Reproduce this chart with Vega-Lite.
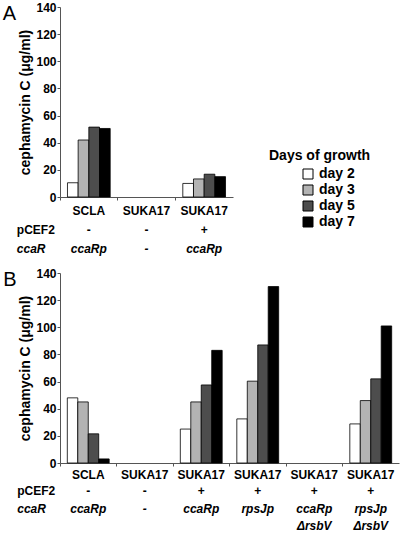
{
  "$schema": "https://vega.github.io/schema/vega-lite/v6.json",
  "padding": {"left": 2, "top": 1, "right": 2, "bottom": 2},
  "bounds": "flush",
  "spacing": 76,
  "background": "white",
  "config": {
    "view": {"stroke": null},
    "font": "Liberation Sans",
    "axis": {"labelFont": "Liberation Sans", "titleFont": "Liberation Sans", "labelFontWeight": "bold", "titleFontWeight": "bold", "labelColor": "black", "titleColor": "black", "domainColor": "#555", "tickColor": "#555", "grid": false, "labelOverlap": false},
    "text": {"font": "Liberation Sans", "fontSize": 12, "fontWeight": "bold", "color": "black"}
  },
  "datasets": {
    "barsA": [
      {"group": "a1", "day": "day 2", "value": 10.5}, {"group": "a1", "day": "day 3", "value": 42}, {"group": "a1", "day": "day 5", "value": 51.5}, {"group": "a1", "day": "day 7", "value": 50.5},
      {"group": "a2", "day": "day 2", "value": 0}, {"group": "a2", "day": "day 3", "value": 0}, {"group": "a2", "day": "day 5", "value": 0}, {"group": "a2", "day": "day 7", "value": 0},
      {"group": "a3", "day": "day 2", "value": 10}, {"group": "a3", "day": "day 3", "value": 13.3}, {"group": "a3", "day": "day 5", "value": 16.8}, {"group": "a3", "day": "day 7", "value": 15}
    ],
    "barsB": [
      {"group": "b1", "day": "day 2", "value": 48}, {"group": "b1", "day": "day 3", "value": 45}, {"group": "b1", "day": "day 5", "value": 21.5}, {"group": "b1", "day": "day 7", "value": 3},
      {"group": "b2", "day": "day 2", "value": 0}, {"group": "b2", "day": "day 3", "value": 0}, {"group": "b2", "day": "day 5", "value": 0}, {"group": "b2", "day": "day 7", "value": 0},
      {"group": "b3", "day": "day 2", "value": 25}, {"group": "b3", "day": "day 3", "value": 45}, {"group": "b3", "day": "day 5", "value": 57.5}, {"group": "b3", "day": "day 7", "value": 83},
      {"group": "b4", "day": "day 2", "value": 32.5}, {"group": "b4", "day": "day 3", "value": 60.3}, {"group": "b4", "day": "day 5", "value": 87}, {"group": "b4", "day": "day 7", "value": 130},
      {"group": "b5", "day": "day 2", "value": 0}, {"group": "b5", "day": "day 3", "value": 0}, {"group": "b5", "day": "day 5", "value": 0}, {"group": "b5", "day": "day 7", "value": 0},
      {"group": "b6", "day": "day 2", "value": 28.8}, {"group": "b6", "day": "day 3", "value": 46}, {"group": "b6", "day": "day 5", "value": 62}, {"group": "b6", "day": "day 7", "value": 101}
    ],
    "labelsA": [
      {"group": "a1", "strain": "SCLA", "pcef2": "-", "ccar": "ccaRp"},
      {"group": "a2", "strain": "SUKA17", "pcef2": "-", "ccar": "-"},
      {"group": "a3", "strain": "SUKA17", "pcef2": "+", "ccar": "ccaRp"}
    ],
    "labelsB": [
      {"group": "b1", "strain": "SCLA", "pcef2": "-", "ccar": "ccaRp", "rsbv": ""},
      {"group": "b2", "strain": "SUKA17", "pcef2": "-", "ccar": "-", "rsbv": ""},
      {"group": "b3", "strain": "SUKA17", "pcef2": "+", "ccar": "ccaRp", "rsbv": ""},
      {"group": "b4", "strain": "SUKA17", "pcef2": "+", "ccar": "rpsJp", "rsbv": ""},
      {"group": "b5", "strain": "SUKA17", "pcef2": "+", "ccar": "ccaRp", "rsbv": "ΔrsbV"},
      {"group": "b6", "strain": "SUKA17", "pcef2": "+", "ccar": "rpsJp", "rsbv": "ΔrsbV"}
    ]
  },
  "vconcat": [
    {
      "width": 173,
      "height": 190,
      "resolve": {"scale": {"xOffset": "independent"}},
      "layer": [
        {
          "data": {"name": "barsA"},
          "transform": [{"filter": "datum.value > 0"}],
          "mark": {"type": "bar", "stroke": "black", "strokeWidth": 0.8},
          "encoding": {
            "x": {"field": "group", "type": "nominal", "scale": {"domain": ["a1", "a2", "a3"], "paddingInner": 0, "paddingOuter": 0}, "axis": {"title": null, "labels": false, "bandPosition": 0, "tickSize": 3, "domainWidth": 1}},
            "xOffset": {"field": "day", "type": "nominal", "scale": {"domain": ["day 2", "day 3", "day 5", "day 7"], "paddingInner": 0, "paddingOuter": 0.7}},
            "y": {"field": "value", "type": "quantitative", "scale": {"domain": [0, 140], "nice": false}, "axis": {"title": "cephamycin C (μg/ml)", "titleFontSize": 14, "titlePadding": 3, "labelFontSize": 12, "labelPadding": 1, "tickSize": 3, "labelOverlap": false, "tickCount": 8, "values": [0, 20, 40, 60, 80, 100, 120, 140]}},
            "fill": {"field": "day", "type": "nominal", "scale": {"domain": ["day 2", "day 3", "day 5", "day 7"], "range": ["#ffffff", "#b3b3b3", "#4d4d4d", "#000000"]},
              "legend": {"title": "Days of growth", "orient": "none", "legendX": 209, "legendY": 142, "titleFontSize": 14, "titleFontWeight": "bold", "titleFont": "Liberation Sans", "titleColor": "black", "titlePadding": 4, "labelFontSize": 14, "labelFontWeight": "bold", "labelFont": "Liberation Sans", "labelColor": "black", "symbolType": "square", "symbolSize": 100, "symbolStrokeColor": "black", "symbolStrokeWidth": 1, "symbolOffset": 32, "labelOffset": 4, "rowPadding": 2}}
          }
        },
        {
          "data": {"name": "labelsA"},
          "mark": {"type": "text", "baseline": "middle", "dy": 14},
          "encoding": {"x": {"field": "group", "type": "nominal"}, "y": {"datum": 0}, "text": {"field": "strain"}}
        },
        {
          "data": {"name": "labelsA"},
          "mark": {"type": "text", "baseline": "middle", "dy": 33},
          "encoding": {"x": {"field": "group", "type": "nominal"}, "y": {"datum": 0}, "text": {"field": "pcef2"}}
        },
        {
          "data": {"name": "labelsA"},
          "mark": {"type": "text", "baseline": "middle", "dy": 52, "fontStyle": "italic"},
          "encoding": {"x": {"field": "group", "type": "nominal"}, "y": {"datum": 0}, "text": {"field": "ccar"}}
        },
        {
          "data": {"values": [{"group": "a1", "h1": "pCEF2", "h2": "ccaR", "panel": "A"}]},
          "layer": [
            {"mark": {"type": "text", "baseline": "middle", "align": "left", "dx": -72, "dy": 33}, "encoding": {"x": {"field": "group", "type": "nominal"}, "y": {"datum": 0}, "text": {"field": "h1"}}},
            {"mark": {"type": "text", "baseline": "middle", "align": "left", "dx": -72, "dy": 52, "fontStyle": "italic"}, "encoding": {"x": {"field": "group", "type": "nominal"}, "y": {"datum": 0}, "text": {"field": "h2"}}},
            {"mark": {"type": "text", "baseline": "top", "align": "left", "dx": -86, "dy": -3, "fontSize": 20, "fontWeight": "normal"}, "encoding": {"x": {"field": "group", "type": "nominal"}, "y": {"datum": 140}, "text": {"field": "panel"}}}
          ]
        }
      ]
    },
    {
      "width": 339,
      "height": 190,
      "resolve": {"scale": {"xOffset": "independent"}},
      "layer": [
        {
          "data": {"name": "barsB"},
          "transform": [{"filter": "datum.value > 0"}],
          "mark": {"type": "bar", "stroke": "black", "strokeWidth": 0.8},
          "encoding": {
            "x": {"field": "group", "type": "nominal", "scale": {"domain": ["b1", "b2", "b3", "b4", "b5", "b6"], "paddingInner": 0, "paddingOuter": 0}, "axis": {"title": null, "labels": false, "bandPosition": 0, "tickSize": 3, "domainWidth": 1}},
            "xOffset": {"field": "day", "type": "nominal", "scale": {"domain": ["day 2", "day 3", "day 5", "day 7"], "paddingInner": 0, "paddingOuter": 0.7}},
            "y": {"field": "value", "type": "quantitative", "scale": {"domain": [0, 140], "nice": false}, "axis": {"title": "cephamycin C (μg/ml)", "titleFontSize": 14, "titlePadding": 3, "labelFontSize": 12, "labelPadding": 1, "tickSize": 3, "labelOverlap": false, "tickCount": 8, "values": [0, 20, 40, 60, 80, 100, 120, 140]}},
            "fill": {"field": "day", "type": "nominal", "legend": null}
          }
        },
        {
          "data": {"name": "labelsB"},
          "mark": {"type": "text", "baseline": "middle", "dy": 12},
          "encoding": {"x": {"field": "group", "type": "nominal"}, "y": {"datum": 0}, "text": {"field": "strain"}}
        },
        {
          "data": {"name": "labelsB"},
          "mark": {"type": "text", "baseline": "middle", "dy": 28},
          "encoding": {"x": {"field": "group", "type": "nominal"}, "y": {"datum": 0}, "text": {"field": "pcef2"}}
        },
        {
          "data": {"name": "labelsB"},
          "mark": {"type": "text", "baseline": "middle", "dy": 46, "fontStyle": "italic"},
          "encoding": {"x": {"field": "group", "type": "nominal"}, "y": {"datum": 0}, "text": {"field": "ccar"}}
        },
        {
          "data": {"name": "labelsB"},
          "mark": {"type": "text", "baseline": "middle", "dy": 63, "fontStyle": "italic"},
          "encoding": {"x": {"field": "group", "type": "nominal"}, "y": {"datum": 0}, "text": {"field": "rsbv"}}
        },
        {
          "data": {"values": [{"group": "b1", "h1": "pCEF2", "h2": "ccaR", "panel": "B"}]},
          "layer": [
            {"mark": {"type": "text", "baseline": "middle", "align": "left", "dx": -71, "dy": 28}, "encoding": {"x": {"field": "group", "type": "nominal"}, "y": {"datum": 0}, "text": {"field": "h1"}}},
            {"mark": {"type": "text", "baseline": "middle", "align": "left", "dx": -71, "dy": 46, "fontStyle": "italic"}, "encoding": {"x": {"field": "group", "type": "nominal"}, "y": {"datum": 0}, "text": {"field": "h2"}}},
            {"mark": {"type": "text", "baseline": "top", "align": "left", "dx": -85, "dy": -3, "fontSize": 20, "fontWeight": "normal"}, "encoding": {"x": {"field": "group", "type": "nominal"}, "y": {"datum": 140}, "text": {"field": "panel"}}}
          ]
        }
      ]
    }
  ]
}
